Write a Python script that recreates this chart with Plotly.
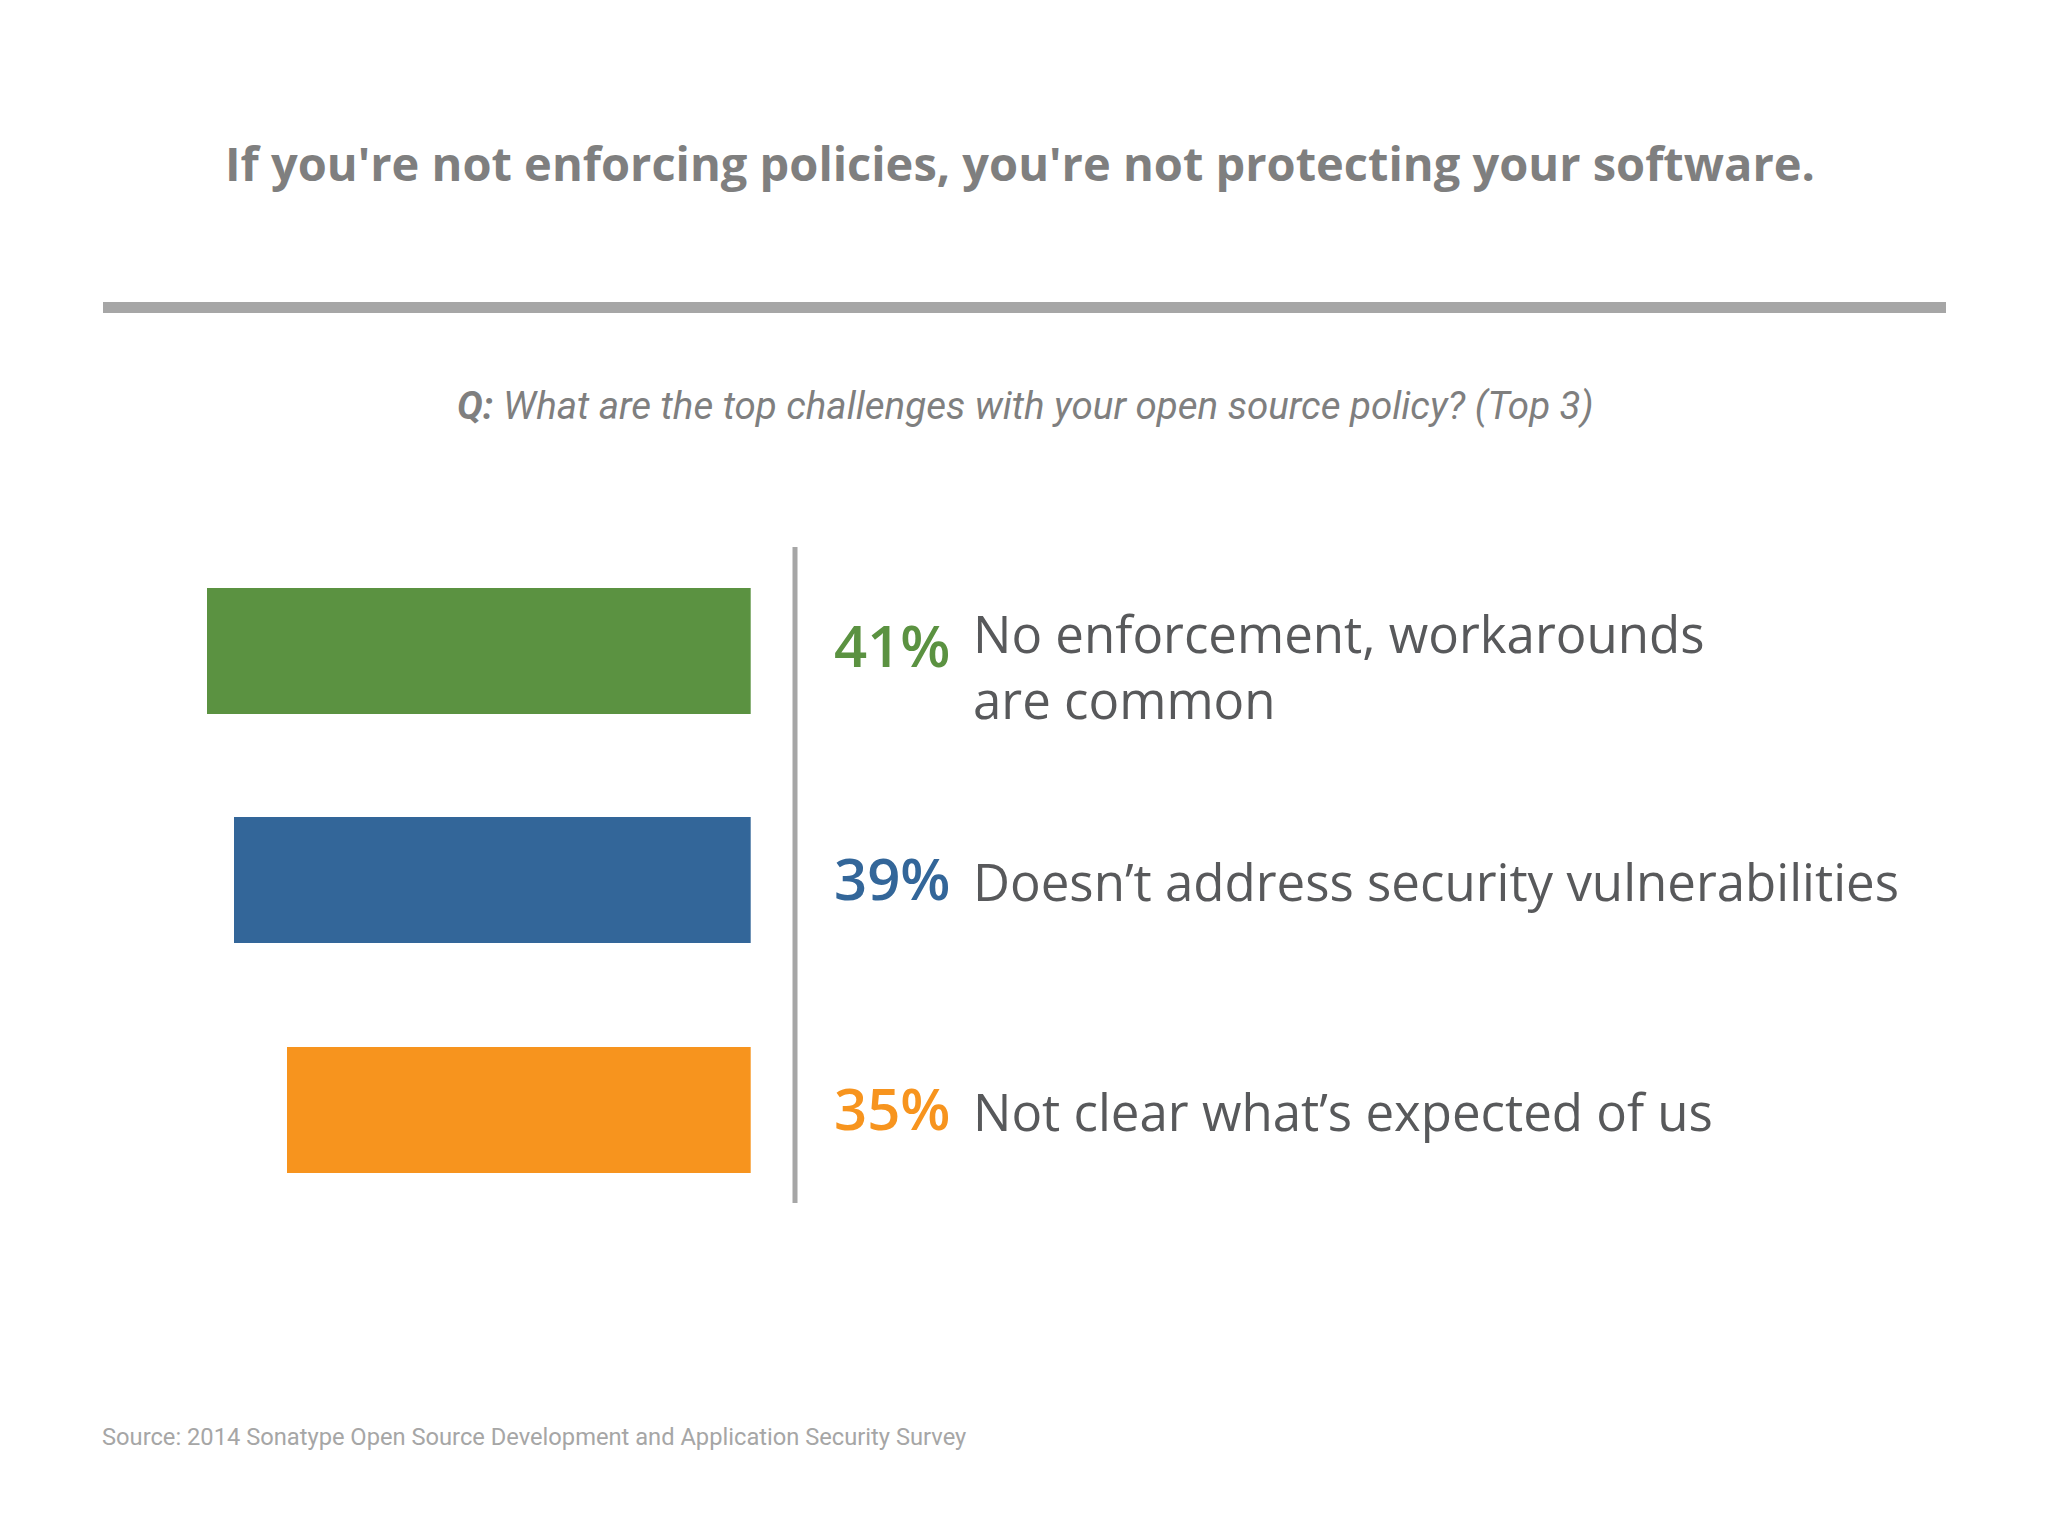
import plotly.graph_objects as go

# ---- data ----
values = [41, 39, 35]
positions = [0, 1, 2]
pct_labels = ["41%", "39%", "35%"]
descriptions = ["No enforcement, workarounds<br>are common",
                "Doesn’t address security vulnerabilities",
                "Not clear what’s expected of us"]
colors = ["#5B9241", "#336699", "#F7941E"]
title_text = "If you're not enforcing policies, you're not protecting your software."
question_bold = "Q:"
question_text = "What are the top challenges with your open source policy? (Top 3)"
source_text = "Source: 2014 Sonatype Open Source Development and Application Security Survey"

# page body has an 8px default margin; lay out in window pixels
OFF = 8
W, H = 2048 - 2 * OFF, 1536 - 2 * OFF


def fx(px):
    return (px - OFF) / W


def fy(px):
    return 1 - (px - OFF) / H


ZERO_X = 750.7      # window px of the bars' zero line
PX_PER_UNIT = 13.25

fig = go.Figure()
fig.add_trace(go.Bar(
    x=values, y=positions, orientation="h",
    marker=dict(color=colors, line=dict(width=0)),
    width=0.547, hoverinfo="skip", showlegend=False,
))

fig.update_layout(
    width=W, height=H,
    margin=dict(l=0, r=0, t=0, b=0),
    paper_bgcolor="white", plot_bgcolor="white",
    xaxis=dict(domain=[0, fx(ZERO_X)], range=[(ZERO_X - OFF) / PX_PER_UNIT, 0],
               visible=False, fixedrange=True),
    yaxis=dict(domain=[fy(1224.25), fy(535.75)], range=[2.5, -0.5],
               visible=False, fixedrange=True),
    bargap=0,
)

shapes = [
    dict(type="line", xref="paper", yref="paper",
         x0=fx(103), x1=fx(1946), y0=fy(307.5), y1=fy(307.5),
         line=dict(color="#A6A6A6", width=11)),
    dict(type="line", xref="paper", yref="paper",
         x0=fx(795), x1=fx(795), y0=fy(547), y1=fy(1203),
         line=dict(color="#A6A6A6", width=5)),
]
fig.update_layout(shapes=shapes)

ann = []
ann.append(dict(text="<b>" + title_text + "</b>", xref="paper", yref="paper",
                x=fx(1020), y=fy(163), xanchor="center", yanchor="middle",
                showarrow=False,
                font=dict(family="Open Sans", size=47, color="#7F7F7F")))
ann.append(dict(text="<b><i>" + question_bold + "</i></b> <i>" + question_text + "</i>",
                xref="paper", yref="paper",
                x=fx(1025), y=fy(405), xanchor="center", yanchor="middle",
                showarrow=False,
                font=dict(family="Roboto", size=38.5, color="#7F7F7F")))
ann.append(dict(text=source_text, xref="paper", yref="paper",
                x=fx(100), y=fy(1437), xanchor="left", yanchor="middle",
                showarrow=False,
                font=dict(family="Roboto", size=23.7, color="#A6A6A6")))

pct_shift = [6, 2, 2]
desc_shift = [-16, -1, -1]
for i in range(len(values)):
    ann.append(dict(text=pct_labels[i], xref="paper", yref="y",
                    x=fx(832), y=positions[i], xanchor="left", yanchor="middle",
                    yshift=pct_shift[i], showarrow=False,
                    font=dict(family="Open Sans", size=58, weight=600, color=colors[i])))
    ann.append(dict(text=descriptions[i], xref="paper", yref="y",
                    x=fx(971), y=positions[i], xanchor="left", yanchor="middle",
                    yshift=desc_shift[i], showarrow=False, align="left",
                    font=dict(family="Open Sans", size=51, color="#58595B")))
fig.update_layout(annotations=ann)

fig.write_html("out.html")
